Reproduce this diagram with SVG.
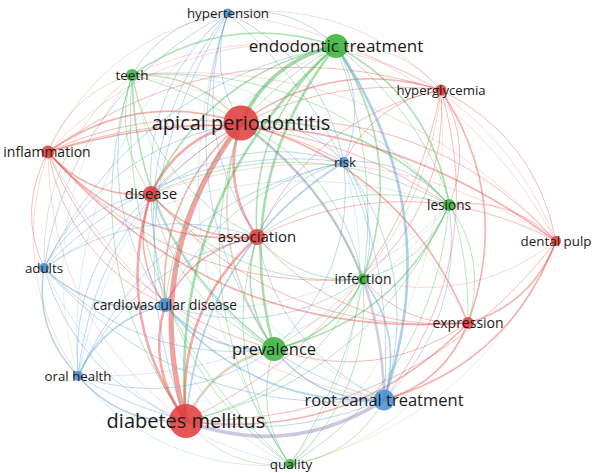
<svg xmlns="http://www.w3.org/2000/svg" width="594" height="473" viewBox="0 0 594 473">
<style>
.e path{fill:none;stroke-linecap:round}
.r{stroke:#e8453f}.g{stroke:#3fb845}.b{stroke:#4a95d6}.p{stroke:#9d8fc8}.y{stroke:#b5a66a}
.w1{stroke-width:1;stroke-opacity:.36}
.w2{stroke-width:1.6;stroke-opacity:.42}
.w3{stroke-width:2.6;stroke-opacity:.45}
.w4{stroke-width:3.8;stroke-opacity:.5}
.w5{stroke-width:5.2;stroke-opacity:.5}
.f{stroke-opacity:.2}
.nr{fill:#e23f3f;fill-opacity:.88}.ng{fill:#3db43f;fill-opacity:.88}.nb{fill:#4a8fd0;fill-opacity:.88}
text{font-family:"Open Sans","Noto Sans","DejaVu Sans",sans-serif;fill:#1a1a1a;text-anchor:middle}
</style>
<rect width="594" height="473" fill="#fff"/>
<g id="edges" class="e">
<path class="r w5" d="M241 123Q139 258 186 421"/>
<path class="g w4" d="M241 123Q269 61 336 46"/>
<path class="r w3" d="M241 123Q220.5 184 257 237"/>
<path class="r w3" d="M241 123Q178 136 151 194"/>
<path class="r w2" d="M241 123Q137 89 48 152"/>
<path class="y w2" d="M241 123Q201 244 274 349"/>
<path class="p w3" d="M241 123Q382 226 384 400"/>
<path class="y w2" d="M241 123Q198.5 72 132 75"/>
<path class="b w1" d="M241 123Q207 71 228 13"/>
<path class="r w2" d="M241 123Q333 56.5 441 90"/>
<path class="b w1" d="M241 123Q302 117 344 162"/>
<path class="g w2" d="M241 123Q365.5 112 449 205"/>
<path class="g w1" d="M241 123Q341 170.5 363 279"/>
<path class="r w2" d="M241 123Q404.5 166 468 323"/>
<path class="r w1" d="M241 123Q428 103 556 241"/>
<path class="r w2" d="M241 123Q157.5 195 165 305"/>
<path class="b w1" d="M241 123Q106 146 44 268"/>
<path class="b w1" d="M241 123Q96 209 78 376"/>
<path class="g w1" d="M241 123Q180 306 290 465"/>
<path class="g w3" d="M186 421Q167 196 336 46"/>
<path class="p w4" d="M186 421Q290 460 384 400"/>
<path class="y w3" d="M186 421Q212 363 274 349"/>
<path class="r w3" d="M186 421Q175.5 311 257 237"/>
<path class="r w3" d="M186 421Q112 316 151 194"/>
<path class="r w1 f" d="M186 421Q50 321 48 152"/>
<path class="r w3" d="M186 421Q146.5 368 165 305"/>
<path class="r w1" d="M186 421Q396 319 441 90"/>
<path class="g w1" d="M186 421Q371.5 379 449 205"/>
<path class="g w1" d="M186 421Q310 394 363 279"/>
<path class="r w2" d="M186 421Q351.5 442.5 468 323"/>
<path class="r w1" d="M186 421Q416 423.5 556 241"/>
<path class="g w1" d="M186 421Q72.5 261.5 132 75"/>
<path class="b w1" d="M186 421Q105 206.5 228 13"/>
<path class="b w2" d="M186 421Q200 252 344 162"/>
<path class="b w1" d="M186 421Q77 380 44 268"/>
<path class="b w2" d="M186 421Q121 425.5 78 376"/>
<path class="y w1" d="M186 421Q227 469 290 465"/>
<path class="g w3" d="M336 46Q229 182 274 349"/>
<path class="b w3" d="M336 46Q448.5 211 384 400"/>
<path class="g w2" d="M336 46Q249 122 257 237"/>
<path class="g w2" d="M336 46Q206.5 74 151 194"/>
<path class="g w2" d="M336 46Q432 97 449 205"/>
<path class="g w2" d="M336 46Q408 156 363 279"/>
<path class="g w2" d="M336 46Q227 9.5 132 75"/>
<path class="b w1" d="M336 46Q290 2.5 228 13"/>
<path class="y w1" d="M336 46Q399.5 42 441 90"/>
<path class="b w1" d="M336 46Q369 102 344 162"/>
<path class="g w1" d="M336 46Q471 151.5 468 323"/>
<path class="r w1 f" d="M336 46Q495 88.5 556 241"/>
<path class="g w1" d="M336 46Q186 133 165 305"/>
<path class="g w1" d="M336 46Q418 267 290 465"/>
<path class="r w1 f" d="M336 46Q165.5 27 48 152"/>
<path class="b w1" d="M336 46Q134.5 84 44 268"/>
<path class="b w1 f" d="M336 46Q124.5 146.5 78 376"/>
<path class="b w2" d="M384 400Q316 402 274 349"/>
<path class="b w1" d="M384 400Q280 350 257 237"/>
<path class="b w1" d="M384 400Q216 355 151 194"/>
<path class="b w1" d="M384 400Q465 319 449 205"/>
<path class="b w2" d="M384 400Q404 334 363 279"/>
<path class="r w2" d="M384 400Q445 382.5 468 323"/>
<path class="r w2" d="M384 400Q510 363.5 556 241"/>
<path class="r w1" d="M384 400Q490 259 441 90"/>
<path class="g w1 f" d="M384 400Q177 300.5 132 75"/>
<path class="b w1" d="M384 400Q403 167.5 228 13"/>
<path class="b w1" d="M384 400Q423.5 271 344 162"/>
<path class="b w2" d="M384 400Q251 407 165 305"/>
<path class="b w1" d="M384 400Q181 419 44 268"/>
<path class="b w1" d="M384 400Q225 464.5 78 376"/>
<path class="g w1" d="M384 400Q353 456 290 465"/>
<path class="r w1 f" d="M384 400Q154 360 48 152"/>
<path class="g w2" d="M274 349Q237.5 297 257 237"/>
<path class="g w1" d="M274 349Q174 302 151 194"/>
<path class="b w2" d="M274 349Q208.5 354 165 305"/>
<path class="g w2" d="M274 349Q397.5 321 449 205"/>
<path class="g w2" d="M274 349Q336 336 363 279"/>
<path class="g w2" d="M274 349Q134.5 247.5 132 75"/>
<path class="b w1" d="M274 349Q167 192.5 228 13"/>
<path class="b w1" d="M274 349Q356 273 344 162"/>
<path class="b w1" d="M274 349Q139 366 44 268"/>
<path class="b w1" d="M274 349Q182.75 411.5 78 376"/>
<path class="g w1" d="M274 349Q253 411 290 465"/>
<path class="y w1" d="M274 349Q422 261 441 90"/>
<path class="r w1" d="M274 349Q377.5 384.5 468 323"/>
<path class="r w1" d="M274 349Q112 307 48 152"/>
<path class="r w2" d="M257 237Q193 242 151 194"/>
<path class="r w2" d="M257 237Q194 248 165 305"/>
<path class="r w2" d="M257 237Q131 247 48 152"/>
<path class="r w1" d="M257 237Q312 117.5 441 90"/>
<path class="g w1" d="M257 237Q345 173 449 205"/>
<path class="g w1" d="M257 237Q299.5 284.5 363 279"/>
<path class="b w1" d="M257 237Q282 178 344 162"/>
<path class="g w1" d="M257 237Q154 187 132 75"/>
<path class="b w1" d="M257 237Q186.5 132 228 13"/>
<path class="r w1" d="M257 237Q341 333 468 323"/>
<path class="b w1" d="M257 237Q143 199 44 268"/>
<path class="b w1" d="M257 237Q133 262 78 376"/>
<path class="g w1" d="M257 237Q216.5 359 290 465"/>
<path class="r w1" d="M257 237Q407.5 164 556 241"/>
<path class="r w2" d="M151 194Q89 199 48 152"/>
<path class="r w2" d="M151 194Q130 253 165 305"/>
<path class="g w1" d="M151 194Q112 139 132 75"/>
<path class="r w1" d="M151 194Q270 69.5 441 90"/>
<path class="g w1" d="M151 194Q303 125 449 205"/>
<path class="g w1" d="M151 194Q235.75 289.5 363 279"/>
<path class="b w1" d="M151 194Q239.5 130 344 162"/>
<path class="b w1" d="M151 194Q79 204 44 268"/>
<path class="b w1" d="M151 194Q69 267 78 376"/>
<path class="r w1" d="M151 194Q277 338 468 323"/>
<path class="b w1" d="M151 194Q144 84 228 13"/>
<path class="g w1" d="M151 194Q153 364 290 465"/>
<path class="r w1 f" d="M151 194Q365 116 556 241"/>
<path class="y w1" d="M48 152Q71 92.5 132 75"/>
<path class="r w1" d="M48 152Q229 23 441 90"/>
<path class="r w1" d="M48 152Q262 78 449 205"/>
<path class="r w1" d="M48 152Q174 294 363 279"/>
<path class="r w2" d="M48 152Q215 342.5 468 323"/>
<path class="r w2" d="M48 152Q324 69.5 556 241"/>
<path class="r w1" d="M48 152Q68 258 165 305"/>
<path class="r w1" d="M48 152Q17 209 44 268"/>
<path class="r w1 f" d="M48 152Q7 271.5 78 376"/>
<path class="r w1" d="M48 152Q198.5 83 344 162"/>
<path class="r w1 f" d="M48 152Q103 37.5 228 13"/>
<path class="b w2" d="M165 305Q95 317 44 268"/>
<path class="b w2" d="M165 305Q104 319 78 376"/>
<path class="b w1" d="M165 305Q123.5 143 228 13"/>
<path class="b w1" d="M165 305Q219 189 344 162"/>
<path class="b w1" d="M165 305Q91 198 132 75"/>
<path class="b w1" d="M165 305Q270.5 341.5 363 279"/>
<path class="b w1 f" d="M165 305Q332 326 449 205"/>
<path class="b w1 f" d="M165 305Q187.5 416 290 465"/>
<path class="r w1" d="M441 90Q474 145.5 449 205"/>
<path class="r w2" d="M441 90Q513 200 468 323"/>
<path class="r w1" d="M441 90Q536 137 556 241"/>
<path class="r w1" d="M441 90Q449 204 363 279"/>
<path class="r w1" d="M441 90Q374.5 102 344 162"/>
<path class="r w1 f" d="M441 90Q290 5 132 75"/>
<path class="r w1 f" d="M441 90Q353.75 -1.75 228 13"/>
<path class="y w1 f" d="M441 90Q459 315 290 465"/>
<path class="g w1" d="M449 205Q424.5 263.5 363 279"/>
<path class="g w1" d="M449 205Q488 259 468 323"/>
<path class="r w1" d="M449 205Q511.5 196 556 241"/>
<path class="g w1" d="M449 205Q323 61 132 75"/>
<path class="b w1" d="M449 205Q407 157 344 162"/>
<path class="g w1" d="M449 205Q434.5 375 290 465"/>
<path class="b w1 f" d="M449 205Q231 135 44 268"/>
<path class="b w1 f" d="M449 205Q306 383 78 376"/>
<path class="r w1" d="M363 279Q404.5 327 468 323"/>
<path class="g w1" d="M363 279Q298.5 119 132 75"/>
<path class="g w1" d="M363 279Q373 390 290 465"/>
<path class="b w1" d="M363 279Q383 216 344 162"/>
<path class="r w1 f" d="M363 279Q469 308 556 241"/>
<path class="r w2" d="M468 323Q532.5 304 556 241"/>
<path class="y w1 f" d="M468 323Q362 115 132 75"/>
<path class="y w1 f" d="M468 323Q414.5 438.5 290 465"/>
<path class="y w1 f" d="M556 241Q479 419.5 290 465"/>
<path class="r w1 f" d="M556 241Q449 45 228 13"/>
<path class="r w1 f" d="M556 241Q385.5 52 132 75"/>
<path class="b w1" d="M132 75Q164.5 20 228 13"/>
<path class="y w1" d="M132 75Q40 149.5 44 268"/>
<path class="y w1 f" d="M132 75Q30 212 78 376"/>
<path class="g w1" d="M132 75Q113.5 309.5 290 465"/>
<path class="b w1 f" d="M132 75Q260 65.5 344 162"/>
<path class="b w1" d="M228 13Q323 58.5 344 162"/>
<path class="b w1" d="M228 13Q72 94.5 44 268"/>
<path class="b w1 f" d="M228 13Q62 157 78 376"/>
<path class="b w1 f" d="M228 13Q146 254.5 290 465"/>
<path class="b w1" d="M344 162Q167.5 140 44 268"/>
<path class="b w1" d="M344 162Q157.5 202.5 78 376"/>
<path class="b w1 f" d="M344 162Q393 327 290 465"/>
<path class="b w2" d="M44 268Q34 330.5 78 376"/>
<path class="b w1 f" d="M44 268Q118 428 290 465"/>
<path class="b w1 f" d="M78 376Q162 473.5 290 465"/>
</g>
<g id="n-apical-periodontitis"><circle class="nr" cx="241" cy="123" r="17.5"/><text x="241" y="130" font-size="20">apical periodontitis</text></g>
<g id="n-diabetes-mellitus"><circle class="nr" cx="186" cy="421" r="17"/><text x="186" y="428" font-size="20">diabetes mellitus</text></g>
<g id="n-endodontic-treatment"><circle class="ng" cx="336" cy="46" r="12"/><text x="336" y="52" font-size="17">endodontic treatment</text></g>
<g id="n-root-canal-treatment"><circle class="nb" cx="384" cy="400" r="10.5"/><text x="384" y="406" font-size="16.5">root canal treatment</text></g>
<g id="n-prevalence"><circle class="ng" cx="274" cy="349" r="12"/><text x="274" y="355" font-size="16.5">prevalence</text></g>
<g id="n-association"><circle class="nr" cx="257" cy="237" r="8"/><text x="257" y="242" font-size="15">association</text></g>
<g id="n-disease"><circle class="nr" cx="151" cy="194" r="8"/><text x="151" y="199" font-size="15">disease</text></g>
<g id="n-inflammation"><circle class="nr" cx="48" cy="152" r="6.5"/><text x="47" y="157" font-size="14">inflammation</text></g>
<g id="n-cardiovascular-disease"><circle class="nb" cx="165" cy="305" r="7"/><text x="165" y="310" font-size="13.7">cardiovascular disease</text></g>
<g id="n-hyperglycemia"><circle class="nr" cx="441" cy="90" r="5.5"/><text x="441" y="95" font-size="13.2">hyperglycemia</text></g>
<g id="n-lesions"><circle class="ng" cx="449" cy="205" r="6"/><text x="449" y="210" font-size="13.6">lesions</text></g>
<g id="n-infection"><circle class="ng" cx="363" cy="279" r="5.5"/><text x="363" y="284" font-size="14">infection</text></g>
<g id="n-expression"><circle class="nr" cx="468" cy="323" r="6"/><text x="468" y="328" font-size="14">expression</text></g>
<g id="n-dental-pulp"><circle class="nr" cx="556" cy="241" r="5"/><text x="556" y="246" font-size="13.4">dental pulp</text></g>
<g id="n-teeth"><circle class="ng" cx="132" cy="75" r="6"/><text x="132" y="80" font-size="13.5">teeth</text></g>
<g id="n-hypertension"><circle class="nb" cx="228" cy="13" r="4.5"/><text x="228" y="18" font-size="13.3">hypertension</text></g>
<g id="n-risk"><circle class="nb" cx="344" cy="162" r="5"/><text x="345" y="167" font-size="13.3">risk</text></g>
<g id="n-adults"><circle class="nb" cx="44" cy="268" r="5"/><text x="44" y="273" font-size="13.3">adults</text></g>
<g id="n-oral-health"><circle class="nb" cx="78" cy="376" r="5"/><text x="78" y="381" font-size="13.3">oral health</text></g>
<g id="n-quality"><circle class="ng" cx="290" cy="464" r="5"/><text x="291" y="469" font-size="13.5">quality</text></g>
</svg>
